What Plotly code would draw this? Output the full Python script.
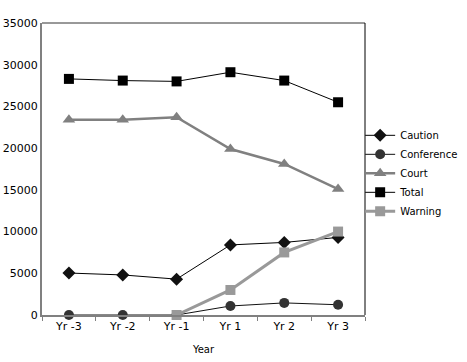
import plotly.graph_objects as go

years = ["Yr -3", "Yr -2", "Yr -1", "Yr 1", "Yr 2", "Yr 3"]
caution = [5030, 4800, 4300, 8400, 8700, 9300]
conference = [0, 0, 0, 1080, 1450, 1230]
court = [23400, 23400, 23700, 19900, 18100, 15100]
total = [28300, 28100, 28000, 29100, 28100, 25500]
warning_years = ["Yr -1", "Yr 1", "Yr 2", "Yr 3"]
warning = [0, 3000, 7500, 10000]
y_ticks = [0, 5000, 10000, 15000, 20000, 25000, 30000, 35000]

fig = go.Figure()
fig.add_trace(go.Scatter(x=years, y=caution, name="Caution", mode="lines+markers",
                         line=dict(color="#000000", width=1),
                         marker=dict(symbol="diamond", size=10, color="#111111"), cliponaxis=False))
fig.add_trace(go.Scatter(x=years, y=conference, name="Conference", mode="lines+markers",
                         line=dict(color="#111111", width=1),
                         marker=dict(symbol="circle", size=10, color="#333333"), cliponaxis=False))
fig.add_trace(go.Scatter(x=years, y=court, name="Court", mode="lines+markers",
                         line=dict(color="#808080", width=2.5),
                         marker=dict(symbol="triangle-up", size=11, color="#808080"), cliponaxis=False))
fig.add_trace(go.Scatter(x=years, y=total, name="Total", mode="lines+markers",
                         line=dict(color="#000000", width=1),
                         marker=dict(symbol="square", size=10, color="#000000"), cliponaxis=False))
fig.add_trace(go.Scatter(x=warning_years, y=warning, name="Warning", mode="lines+markers",
                         line=dict(color="#999999", width=3),
                         marker=dict(symbol="square", size=10, color="#999999"), cliponaxis=False))

fig.update_layout(
    width=467, height=362,
    margin=dict(l=42, r=102, t=23, b=47, autoexpand=False),
    paper_bgcolor="white", plot_bgcolor="white",
    font=dict(family="DejaVu Sans", size=11, color="#000000"),
    showlegend=True,
    legend=dict(x=0.985, y=0.665, xanchor="left", yanchor="top",
                font=dict(size=10), tracegroupgap=0, itemwidth=30,
                bgcolor="rgba(0,0,0,0)"),
    xaxis=dict(categoryorder="array", categoryarray=years, range=[-0.5, 5.5],
               showline=True, linecolor="#808080", linewidth=2,
               ticks="outside", tickson="boundaries", ticklen=4, tickcolor="#808080",
               showgrid=False, zeroline=False, automargin=False,
               title=dict(text="Year", font=dict(size=10), standoff=14)),
    yaxis=dict(range=[0, 35000], tickvals=y_ticks, ticktext=[str(v) for v in y_ticks],
               showline=True, linecolor="#808080", linewidth=2, automargin=False,
               ticks="", showgrid=False, zeroline=False),
    shapes=[
        dict(type="line", xref="paper", yref="paper", x0=0, x1=1, y0=1, y1=1,
             line=dict(color="#333333", width=1)),
        dict(type="line", xref="paper", yref="paper", x0=1, x1=1, y0=0, y1=1,
             line=dict(color="#000000", width=1)),
    ],
)

fig.write_html("out.html", config={"displayModeBar": False},
               post_script="document.body.style.margin='0';")
